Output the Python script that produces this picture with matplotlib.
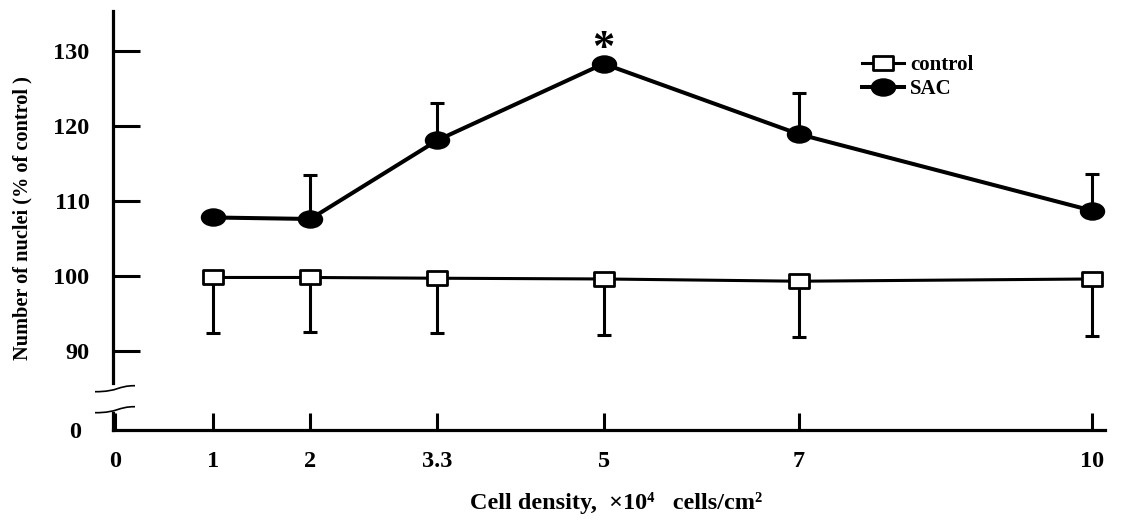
import numpy as np
import matplotlib
matplotlib.use("Agg")
import matplotlib.pyplot as plt
from matplotlib.path import Path
from matplotlib.patches import PathPatch
from matplotlib.transforms import Affine2D

plt.rcParams['font.family'] = ['Liberation Serif', 'DejaVu Serif']
plt.rcParams['font.weight'] = 'bold'

# cell density (x10^4 cells/cm2) and nuclei counts (% of control)
density = [1, 2, 3.3, 5, 7, 10]
control = [99.8, 99.8, 99.7, 99.6, 99.3, 99.6]
control_err = [7.4, 7.3, 7.3, 7.5, 7.4, 7.6]   # lower bars only
sac = [107.8, 107.6, 118.1, 128.3, 118.9, 108.7]
sac_err = [0, 5.9, 4.9, 0, 5.5, 4.9]           # upper bars only
xticks = [0, 1, 2, 3.3, 5, 7, 10]
xticklabels = ['0', '1', '2', '3.3', '5', '7', '10']
yticks = [90, 100, 110, 120, 130]

W, H = 1126, 523
fig = plt.figure(figsize=(W / 100, H / 100), dpi=100)

xlim = (-0.02, 10.13)
# upper panel holds the data, lower strip carries the x axis and the 0
ax = fig.add_axes([113 / W, 1 - 383 / H, 992 / W, 372 / H])
low = fig.add_axes([113 / W, 1 - 430 / H, 992 / W, 17 / H])

ax.set_xlim(xlim)
ax.set_ylim(85.73, 135.33)
for s in ['top', 'right', 'bottom']:
    ax.spines[s].set_visible(False)
ax.spines['left'].set_linewidth(2.3)
ax.set_xticks([])
ax.set_yticks(yticks)
ax.set_yticklabels([str(v) for v in yticks])
ax.tick_params(axis='y', direction='in', length=19.5, width=2.2, pad=17,
               labelsize=17.5)
ax.patch.set_visible(False)

low.set_xlim(xlim)
low.set_ylim(0, 1)
low.spines['top'].set_visible(False)
low.spines['right'].set_visible(False)
low.spines['left'].set_linewidth(2.3)
low.spines['bottom'].set_linewidth(2.3)
low.set_xticks(xticks)
low.set_xticklabels(xticklabels)
low.set_yticks([0])
low.set_yticklabels(['0'])
low.tick_params(axis='x', direction='in', length=12, width=2.2, pad=15,
                labelsize=17.5)
low.tick_params(axis='y', length=0, pad=23, labelsize=17.5)
low.patch.set_visible(False)

# marker shapes: flat ellipse and flat rectangle
ellipse = Path.unit_circle().transformed(Affine2D().scale(1.0, 0.71))
rect = Path([(-1, -0.68), (1, -0.68), (1, 0.68), (-1, 0.68), (-1, -0.68)],
            [Path.MOVETO, Path.LINETO, Path.LINETO, Path.LINETO, Path.CLOSEPOLY])

ax.errorbar(density, control, yerr=[control_err, np.zeros(len(control))],
            fmt='none', ecolor='black', elinewidth=2.2, capsize=5,
            capthick=2.2, zorder=2, clip_on=False)
ax.errorbar(density, sac, yerr=[np.zeros(len(sac)), sac_err],
            fmt='none', ecolor='black', elinewidth=2.2, capsize=5,
            capthick=2.2, zorder=2, clip_on=False)

h_ctrl, = ax.plot(density, control, color='black', lw=2.2, marker=rect,
                  markersize=14.3, markerfacecolor='white',
                  markeredgecolor='black', markeredgewidth=2.0,
                  zorder=3, clip_on=False, label='control')
h_sac, = ax.plot(density, sac, color='black', lw=2.9, marker=ellipse,
                 markersize=17.3, markerfacecolor='black',
                 markeredgecolor='black', zorder=3, clip_on=False,
                 label='SAC')

# significance mark over the peak
ax.annotate('*', xy=(density[3], sac[3]), xytext=(0, -4),
            textcoords='offset points', ha='center', va='bottom',
            fontsize=32, fontweight='bold')

ax.legend(handles=[h_ctrl, h_sac], loc='upper left',
          bbox_to_anchor=(862 / W, 1 - 55 / H), bbox_transform=fig.transFigure,
          frameon=False, fontsize=15, handlelength=2.0, handletextpad=0.3,
          labelspacing=0.2, borderpad=0, borderaxespad=0, numpoints=1,
          markerscale=1.0)

# axis break marks drawn in pixel offsets from the y axis
brk = Path([(-18, 0), (6, 0), (4, 6), (22, 6)],
           [Path.MOVETO, Path.CURVE4, Path.CURVE4, Path.CURVE4])
for y_disp in (131.3, 110.3):
    tr = Affine2D().translate(113, y_disp)
    fig.patches.append(PathPatch(brk, transform=tr, fill=False,
                                 edgecolor='black', lw=1.2, figure=fig))

fig.text(22 / W, 1 - 218 / H, 'Number of nuclei (% of control )',
         rotation=90, ha='center', va='center', fontsize=14.6,
         fontweight='bold')
fig.text(616 / W, 1 - 503 / H, 'Cell density,  \u00d710\u2074   cells/cm\u00b2',
         ha='center', va='center', fontsize=17.5, fontweight='bold')

fig.savefig('out.png', dpi=100)
plt.close(fig)
